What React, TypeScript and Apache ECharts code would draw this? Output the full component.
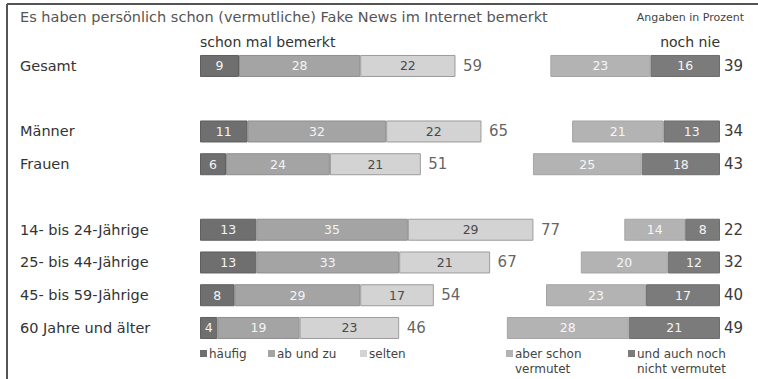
import React, { useEffect, useRef } from "react";
import * as echarts from "echarts";

const categories = [
  "Gesamt",
  " ",
  "Männer",
  "Frauen",
  "  ",
  "14- bis 24-Jährige",
  "25- bis 44-Jährige",
  "45- bis 59-Jährige",
  "60 Jahre und älter",
];
const haeufig = [9, "-", 11, 6, "-", 13, 13, 8, 4];
const abUndZu = [28, "-", 32, 24, "-", 35, 33, 29, 19];
const selten = [22, "-", 22, 21, "-", 29, 21, 17, 23];
const totalBemerkt = [59, null, 65, 51, null, 77, 67, 54, 46];
const aberSchonVermutet = [23, "-", 21, 25, "-", 14, 20, 23, 28];
const nichtVermutet = [16, "-", 13, 18, "-", 8, 12, 17, 21];
const totalNochNie = [39, null, 34, 43, null, 22, 32, 40, 49];

const title = "Es haben persönlich schon (vermutliche) Fake News im Internet bemerkt";
const unitNote = "Angaben in Prozent";
const leftHeader = "schon mal bemerkt";
const rightHeader = "noch nie";
const seriesNames = ["häufig", "ab und zu", "selten", "aber schon\nvermutet", "und auch noch\nnicht vermutet"];

const FONT = "DejaVu Sans";
const C_HAEUFIG = "#6f6f6f";
const C_ABUNDZU = "#a4a4a4";
const C_SELTEN = "#d3d3d3";
const C_ABER = "#b3b3b3";
const C_NICHT = "#7b7b7b";

export default function App() {
  const ref = useRef<HTMLDivElement>(null);
  useEffect(() => {
    if (!ref.current) return;
    const chart = echarts.init(ref.current, undefined, { renderer: "svg" });
    const gridTop = 49.6;
    const gridHeight = 294.75;
    const barW = 22;
    const innerLabel = (color: string) => ({
      show: true,
      position: "inside",
      color,
      fontSize: 12.5,
      fontFamily: FONT,
    });
    const legendItems = [
      { name: seriesNames[0], color: C_HAEUFIG, x: 200 },
      { name: seriesNames[1], color: C_ABUNDZU, x: 268 },
      { name: seriesNames[2], color: C_SELTEN, x: 360 },
      { name: seriesNames[3], color: C_ABER, x: 506 },
      { name: seriesNames[4], color: C_NICHT, x: 628 },
    ];
    const legendY = 354;
    const legendGraphics: any[] = [];
    legendItems.forEach((it) => {
      legendGraphics.push({
        type: "rect",
        shape: { x: it.x, y: legendY - 4, width: 7, height: 7 },
        style: { fill: it.color },
      });
      legendGraphics.push({
        type: "text",
        x: it.x + 9,
        y: legendY - 8,
        style: {
          text: it.name,
          font: `12px '${FONT}'`,
          fill: "#444",
          lineHeight: 15,
          textVerticalAlign: "top",
        },
      });
    });

    chart.setOption({
      animation: false,
      grid: [
        { left: 200, width: 433, top: gridTop, height: gridHeight },
        { left: 459, width: 261, top: gridTop, height: gridHeight },
      ],
      xAxis: [
        { type: "value", gridIndex: 0, min: 0, max: 100, show: false },
        { type: "value", gridIndex: 1, min: 0, max: 60, inverse: true, show: false },
      ],
      yAxis: [
        {
          type: "category",
          gridIndex: 0,
          data: categories,
          inverse: true,
          axisLine: { show: false },
          axisTick: { show: false },
          splitLine: { show: false },
          axisLabel: {
            align: "left",
            margin: 180,
            fontSize: 14.5,
            color: "#333",
            fontFamily: FONT,
          },
        },
        {
          type: "category",
          gridIndex: 1,
          data: categories,
          inverse: true,
          position: "right",
          axisLine: { show: false },
          axisTick: { show: false },
          splitLine: { show: false },
          axisLabel: {
            margin: 4,
            fontSize: 15,
            color: "#3a3a3a",
            fontFamily: FONT,
            formatter: (_v: string, i: number) =>
              totalNochNie[i] == null ? "" : String(totalNochNie[i]),
          },
        },
      ],
      series: [
        {
          type: "bar",
          name: seriesNames[0],
          xAxisIndex: 0,
          yAxisIndex: 0,
          stack: "left",
          barWidth: barW,
          data: haeufig,
          itemStyle: { color: C_HAEUFIG, borderColor: "#5f5f5f", borderWidth: 1 },
          label: innerLabel("#f4f4f4"),
        },
        {
          type: "bar",
          name: seriesNames[1],
          xAxisIndex: 0,
          yAxisIndex: 0,
          stack: "left",
          barWidth: barW,
          data: abUndZu,
          itemStyle: { color: C_ABUNDZU, borderColor: "#8e8e8e", borderWidth: 1 },
          label: innerLabel("#f4f4f4"),
        },
        {
          type: "bar",
          name: seriesNames[2],
          xAxisIndex: 0,
          yAxisIndex: 0,
          stack: "left",
          barWidth: barW,
          data: selten,
          itemStyle: { color: C_SELTEN, borderColor: "#9c9c9c", borderWidth: 1 },
          label: innerLabel("#4a4a4a"),
        },
        {
          type: "scatter",
          name: "total",
          xAxisIndex: 0,
          yAxisIndex: 0,
          symbolSize: 1,
          itemStyle: { color: "rgba(0,0,0,0)" },
          data: totalBemerkt.map((v, i) => (v == null ? null : [v, i])),
          label: {
            show: true,
            position: "right",
            distance: 7,
            fontSize: 15,
            color: "#3a3a3a",
            fontFamily: FONT,
            formatter: (p: any) => String(p.value[0]),
          },
        },
        {
          type: "bar",
          name: seriesNames[4],
          xAxisIndex: 1,
          yAxisIndex: 1,
          stack: "right",
          barWidth: barW,
          data: nichtVermutet,
          itemStyle: { color: C_NICHT, borderColor: "#6e6e6e", borderWidth: 1 },
          label: innerLabel("#f4f4f4"),
        },
        {
          type: "bar",
          name: seriesNames[3],
          xAxisIndex: 1,
          yAxisIndex: 1,
          stack: "right",
          barWidth: barW,
          data: aberSchonVermutet,
          itemStyle: { color: C_ABER, borderColor: "#a5a5a5", borderWidth: 1 },
          label: innerLabel("#f6f6f6"),
        },
      ],
      graphic: [
        {
          type: "line",
          shape: { x1: 7, y1: 4, x2: 758, y2: 4 },
          style: { stroke: "#555", lineWidth: 2 },
        },
        {
          type: "line",
          shape: { x1: 7, y1: 4, x2: 7, y2: 379 },
          style: { stroke: "#555", lineWidth: 2 },
        },
        {
          type: "text",
          x: 20,
          y: 17,
          style: {
            text: title,
            font: `14.5px '${FONT}'`,
            fill: "#555",
            textVerticalAlign: "middle",
          },
        },
        {
          type: "text",
          x: 744,
          y: 17,
          style: {
            text: unitNote,
            font: `11px '${FONT}'`,
            fill: "#444",
            textAlign: "right",
            textVerticalAlign: "middle",
          },
        },
        {
          type: "text",
          x: 200,
          y: 42,
          style: {
            text: leftHeader,
            font: `14px '${FONT}'`,
            fill: "#333",
            textVerticalAlign: "middle",
          },
        },
        {
          type: "text",
          x: 720,
          y: 42,
          style: {
            text: rightHeader,
            font: `14px '${FONT}'`,
            fill: "#333",
            textAlign: "right",
            textVerticalAlign: "middle",
          },
        },
        ...legendGraphics,
      ],
    });
    return () => chart.dispose();
  }, []);
  return <div ref={ref} style={{ width: 758, height: 379, position: "absolute", left: 0, top: 0 }} />;
}
